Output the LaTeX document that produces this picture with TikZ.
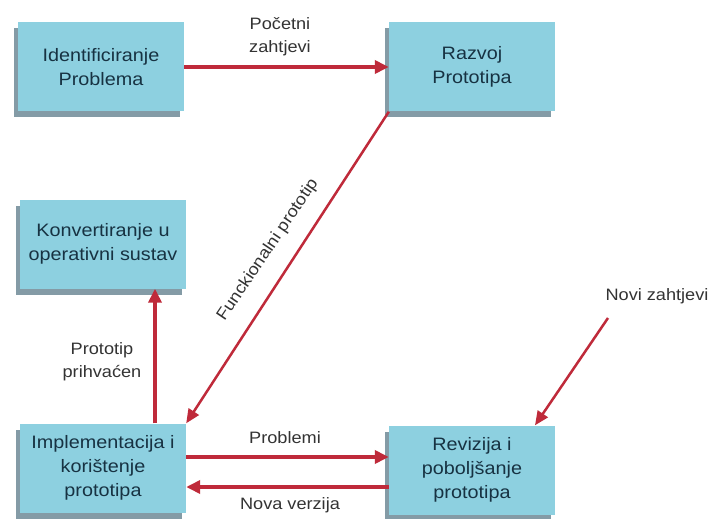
\documentclass[tikz,border=0pt]{standalone}
\usepackage{fontspec}
\setmainfont{Liberation Sans}
\newfontfamily\boxfont[FakeStretch=1.1]{Liberation Sans}
\usetikzlibrary{shadows,arrows.meta}
\definecolor{boxfill}{HTML}{8DD0E0}
\definecolor{boxshadow}{HTML}{6F8A97}
\definecolor{arrowred}{HTML}{BF2A3A}
\definecolor{txt}{HTML}{173242}
\definecolor{lbltxt}{HTML}{333333}
\begin{document}
\begin{tikzpicture}[x=1pt,y=-1pt,
  box/.style={rectangle, fill=boxfill, minimum width=166pt, minimum height=89pt, inner sep=2pt,
    align=center, text=txt, font=\boxfont\fontsize{18}{24}\selectfont,
    drop shadow={shadow xshift=-4pt, shadow yshift=-6pt, fill=boxshadow, opacity=0.85}},
  conn/.style={draw=arrowred, line width=3.5pt, -{Triangle[length=14pt,width=13pt]}},
  thin/.style={draw=arrowred, line width=2.5pt, -{Triangle[length=14pt,width=12pt]}},
  lbl/.style={text=lbltxt, align=center, font=\boxfont\fontsize{16.5}{23}\selectfont}]
\useasboundingbox[fill=white] (0,0) rectangle (713,519);
\node[box] (A) at (101,67) {Identificiranje\\Problema};
\node[box] (B) at (472,67) {Razvoj\\Prototipa};
\node[box] (C) at (103,244) {Konvertiranje u\\operativni sustav};
\node[box] (D) at (103,468) {Implementacija i\\korištenje\\prototipa};
\node[box] (E) at (472,470) {Revizija i\\poboljšanje\\prototipa};
\coordinate (N) at (608,318);
\node[lbl] (Nl) at (657,296) {Novi zahtjevi};
\node[lbl] (L1) at (280,37) {Početni\\zahtjevi};
\node[lbl] (L2) at (102,362) {Prototip\\prihvaćen};
\node[lbl] (L3) at (285,438) {Problemi};
\node[lbl] (L4) at (290,505) {Nova verzija};
\node[lbl, rotate=56] (L5) at (268,250) {Funckionalni prototip};
\draw[conn] (A.east) -- (B.west);
\draw[thin] (B.south west) -- (D.north east);
\draw[conn] (D.north -| 155,0) -- (C.south -| 155,0);
\draw[conn] (D.east |- 0,457) -- (E.west |- 0,457);
\draw[conn] (E.west |- 0,487) -- (D.east |- 0,487);
\draw[thin] (N) -- (E.north east -| 535,0);
\end{tikzpicture}
\end{document}
